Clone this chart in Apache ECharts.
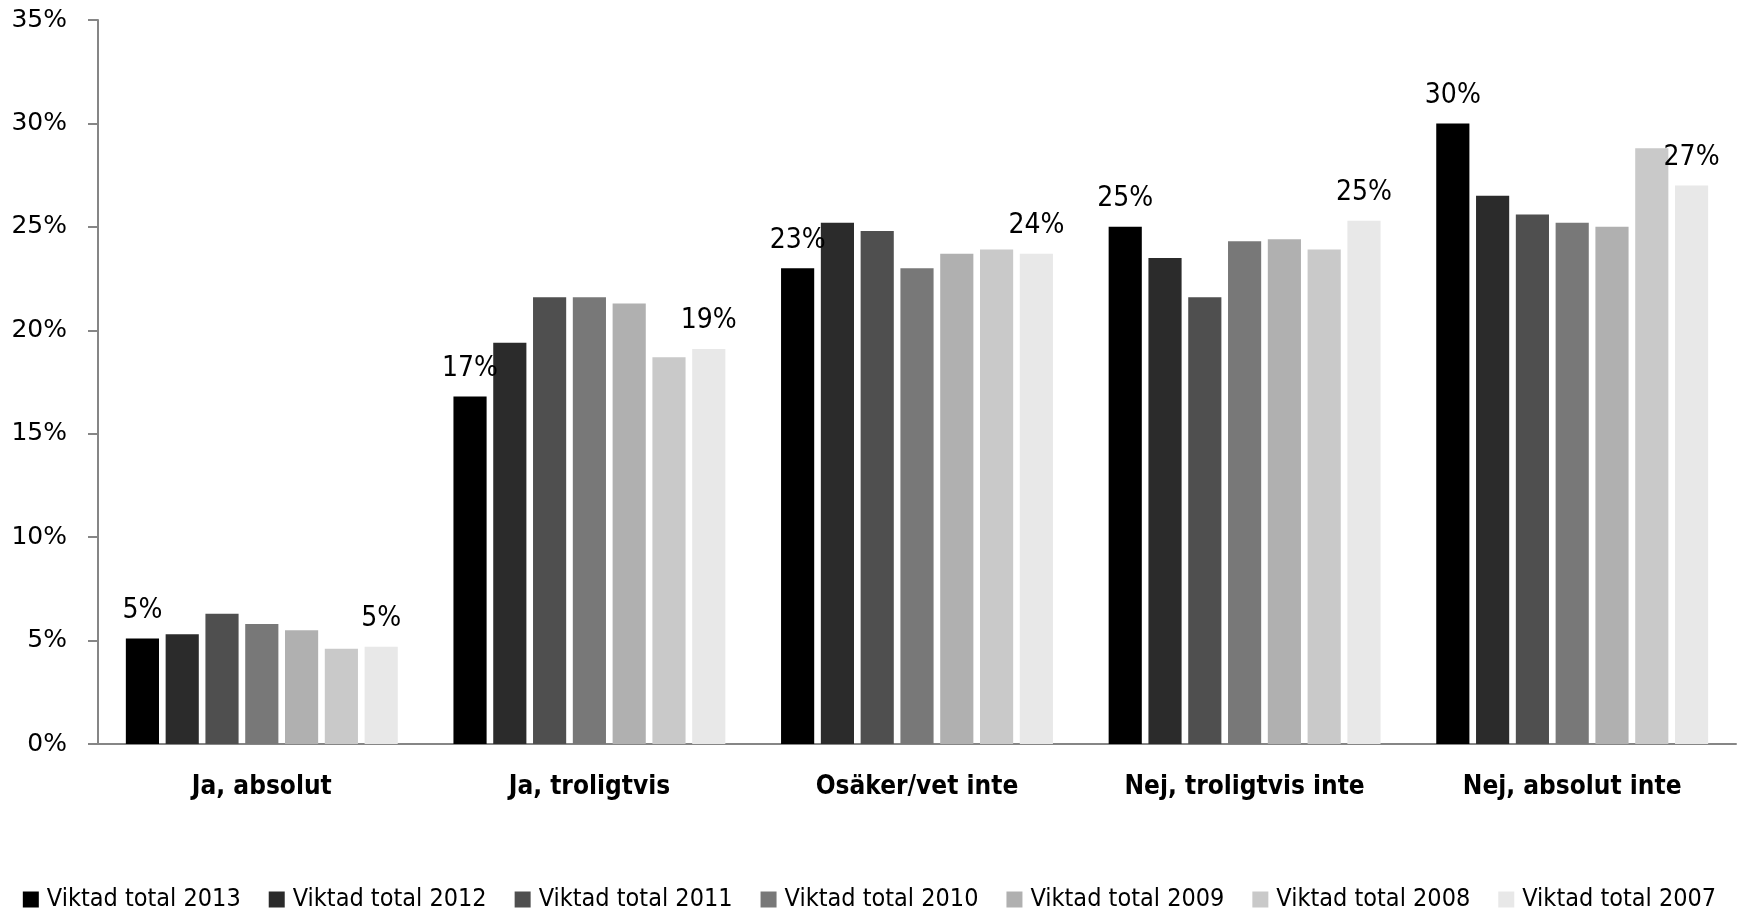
<!DOCTYPE html>
<html>
<head>
<meta charset="utf-8">
<script src="https://cdn.jsdelivr.net/npm/echarts@6/dist/echarts.min.js"></script>
<style>
  html, body { margin: 0; padding: 0; background: #fff; }
  #chart { width: 1739px; height: 909px; }
</style>
</head>
<body>
<div id="chart"></div>
<script>
var categories = ['Ja, absolut', 'Ja, troligtvis', 'Osäker/vet inte', 'Nej, troligtvis inte', 'Nej, absolut inte'];
var seriesNames = ['Viktad total 2013', 'Viktad total 2012', 'Viktad total 2011', 'Viktad total 2010', 'Viktad total 2009', 'Viktad total 2008', 'Viktad total 2007'];
var colors = ['#000000', '#2b2b2b', '#4f4f4f', '#787878', '#b0b0b0', '#c9c9c9', '#e8e8e8'];

var v2013 = [5.1, 16.8, 23.0, 25.0, 30.0];
var v2012 = [5.3, 19.4, 25.2, 23.5, 26.5];
var v2011 = [6.3, 21.6, 24.8, 21.6, 25.6];
var v2010 = [5.8, 21.6, 23.0, 24.3, 25.2];
var v2009 = [5.5, 21.3, 23.7, 24.4, 25.0];
var v2008 = [4.6, 18.7, 23.9, 23.9, 28.8];
var v2007 = [4.7, 19.1, 23.7, 25.3, 27.0];
var allValues = [v2013, v2012, v2011, v2010, v2009, v2008, v2007];

var yTicks = { min: 0, max: 35, interval: 5 };

var narrow = '"DejaVu Sans Condensed", "DejaVu Sans", sans-serif';

var myChart = echarts.init(document.getElementById('chart'));
var option = null;

// only the first and last year get value labels
var series = [];
for (var i = 0; i < seriesNames.length; i++) {
  var showLabel = (i === 0 || i === seriesNames.length - 1);
  series.push({
    name: seriesNames[i],
    type: 'bar',
    barGap: '20%',
    barCategoryGap: '17%',
    itemStyle: { color: colors[i] },
    label: {
      show: showLabel,
      position: 'top',
      distance: 14,
      fontFamily: narrow,
      fontSize: 28,
      color: '#000',
      formatter: function (p) { return Math.round(p.value) + '%'; }
    },
    data: allValues[i]
  });
}

option = {
  animation: false,
  backgroundColor: '#fff',
  color: colors,
  grid: { left: 98, right: 3, top: 20, bottom: 165 },
  legend: {
    top: 882,
    left: 'center',
    itemWidth: 16,
    itemHeight: 16,
    itemGap: 28,
    icon: 'rect',
    textStyle: { fontFamily: narrow, fontSize: 25, color: '#000', padding: [0, 0, 0, 3] },
    data: seriesNames
  },
  xAxis: {
    type: 'category',
    data: categories,
    axisTick: { show: false },
    axisLine: { lineStyle: { color: '#868686', width: 2 } },
    axisLabel: {
      interval: 0,
      margin: 30,
      fontFamily: narrow,
      fontWeight: 'bold',
      fontSize: 26,
      color: '#000'
    }
  },
  yAxis: {
    type: 'value',
    min: yTicks.min,
    max: yTicks.max,
    interval: yTicks.interval,
    splitLine: { show: false },
    axisLine: { show: true, lineStyle: { color: '#868686', width: 2 } },
    axisTick: { show: true, length: 10, lineStyle: { color: '#868686', width: 2 } },
    axisLabel: {
      margin: 31,
      fontFamily: '"DejaVu Sans", Verdana, sans-serif',
      fontSize: 25,
      color: '#000',
      formatter: '{value}%'
    }
  },
  series: series
};

myChart.setOption(option);
</script>
</body>
</html>
